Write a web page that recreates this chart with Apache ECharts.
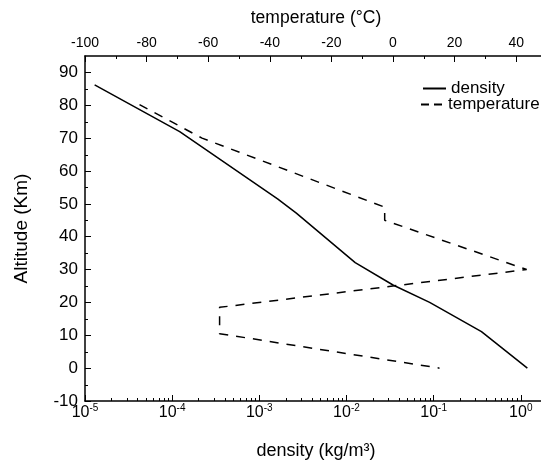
<!DOCTYPE html>
<html>
<head>
<meta charset="utf-8">
<script src="https://cdn.jsdelivr.net/npm/echarts@6/dist/echarts.min.js"></script>
<style>
html,body{margin:0;padding:0;background:#fff;}
#c{width:541px;height:464px;}
</style>
</head>
<body>
<div id="c"></div>
<script>
// ---- data ----
const densityAltitude = [86.2, 72.0, 57.3, 51.5, 47.2, 32.1, 25.3, 20.0, 11.1, 0];
const densityValues   = [1.29e-5, 1.22e-4, 7.8e-4, 1.62e-3, 2.66e-3, 1.26e-2, 3.42e-2, 9.0e-2, 0.354, 1.19];

const temperatureAltitude = [80.2, 70, 49, 45, 30, 18.5, 10.5, 0];
const temperatureValues   = [-82.3, -62, -2.7, -2.7, 43.4, -56.3, -56.3, 15.1];

const altitudeTicks    = [-10, 0, 10, 20, 30, 40, 50, 60, 70, 80, 90];
const temperatureTicks = [-100, -80, -60, -40, -20, 0, 20, 40];
const densityExponents = [-5, -4, -3, -2, -1, 0];

// minor tick positions
const densityMinor = [];
densityExponents.slice(0, -1).forEach(function (e) {
  for (let k = 2; k <= 9; k++) densityMinor.push(k * Math.pow(10, e));
});
const temperatureMinor = temperatureTicks.map(function (v) { return v + 10; });
const altitudeMinor = altitudeTicks.map(function (v) { return v + 5; });

const FONT = '"Liberation Sans", Arial, sans-serif';
const chart = echarts.init(document.getElementById('c'));

function zip(xs, ys) { return xs.map(function (x, i) { return [x, ys[i]]; }); }

function tickRenderer(dx, dy) {
  return function (params, api) {
    const p = api.coord([api.value(0), api.value(1)]);
    const x = Math.round(p[0]) + (dx === 0 ? 0.5 : 0);
    const y = Math.round(p[1]) + (dy === 0 ? 0.5 : 0);
    return {
      type: 'line',
      shape: { x1: x, y1: y, x2: x + dx, y2: y + dy },
      style: { stroke: '#000', lineWidth: 1 }
    };
  };
}

const axisLineStyle = { show: true, onZero: false, lineStyle: { color: '#000', width: 1.5 } };
const tickStyle = { show: true, inside: true, length: 6, lineStyle: { color: '#000', width: 1 } };
const legendText = { fontSize: 17, color: '#000', fontFamily: FONT };

chart.setOption({
  animation: false,
  backgroundColor: '#fff',
  grid: { left: 85, top: 56, width: 462, height: 345, containLabel: false, outerBoundsMode: 'none' },
  legend: [
    {
      data: ['density'], left: 422, top: 80, padding: 0, itemWidth: 23, itemHeight: 14,
      selectedMode: false, itemStyle: { opacity: 0 },
      textStyle: legendText
    },
    {
      data: ['temperature'], left: 420, top: 96, padding: 0, itemWidth: 22, itemHeight: 14,
      selectedMode: false, itemStyle: { opacity: 0 },
      lineStyle: { type: [8, 5] },
      textStyle: legendText
    }
  ],
  xAxis: [
    {
      type: 'log', logBase: 10, min: 1e-5, max: 2, position: 'bottom',
      axisLine: axisLineStyle, axisTick: tickStyle, splitLine: { show: false },
      minorTick: { show: false },
      axisLabel: {
        showMaxLabel: false, margin: 2,
        formatter: function (v) {
          const l = Math.log10(v), e = Math.round(l);
          if (Math.abs(l - e) > 1e-6) return '';
          return '{b|10}{s|' + e + '}';
        },
        rich: {
          b: { fontSize: 16, color: '#000', fontFamily: FONT, lineHeight: 19 },
          s: { fontSize: 10, color: '#000', fontFamily: FONT, verticalAlign: 'top', lineHeight: 10 }
        }
      },
      name: 'density (kg/m³)', nameLocation: 'middle', nameGap: 41,
      nameTextStyle: { fontSize: 18, color: '#000', fontFamily: FONT }
    },
    {
      type: 'value', min: -100, max: 50, interval: 20, position: 'top',
      axisLine: axisLineStyle, axisTick: tickStyle, splitLine: { show: false },
      axisLabel: { showMaxLabel: false, margin: 6, fontSize: 14, color: '#000', fontFamily: FONT },
      name: 'temperature (°C)', nameLocation: 'middle', nameGap: 29,
      nameTextStyle: { fontSize: 17.5, color: '#000', fontFamily: FONT }
    }
  ],
  yAxis: [
    {
      type: 'value', min: -10, max: 95, interval: 10, position: 'left',
      axisLine: axisLineStyle, axisTick: tickStyle, splitLine: { show: false },
      axisLabel: { showMaxLabel: false, margin: 7, fontSize: 17, color: '#000', fontFamily: FONT },
      name: 'Altitude (Km)', nameLocation: 'middle', nameGap: 54, nameRotate: 90,
      nameTextStyle: { fontSize: 19, color: '#000', fontFamily: FONT }
    }
  ],
  series: [
    {
      name: 'density', type: 'line', xAxisIndex: 0, yAxisIndex: 0,
      data: zip(densityValues, densityAltitude),
      symbol: 'none', showSymbol: false,
      lineStyle: { color: '#000', width: 1.5 }, itemStyle: { color: '#000' }
    },
    {
      name: 'temperature', type: 'line', xAxisIndex: 1, yAxisIndex: 0,
      data: zip(temperatureValues, temperatureAltitude),
      symbol: 'none', showSymbol: false,
      lineStyle: { color: '#000', width: 1.5, type: [9, 8] }, itemStyle: { color: '#000' }
    },
    {
      type: 'custom', xAxisIndex: 0, yAxisIndex: 0, silent: true, clip: false,
      data: densityMinor.map(function (v) { return [v, -10]; }),
      renderItem: tickRenderer(0, -3)
    },
    {
      type: 'custom', xAxisIndex: 1, yAxisIndex: 0, silent: true, clip: false,
      data: temperatureMinor.filter(function (v) { return v < 50; }).map(function (v) { return [v, 95]; }),
      renderItem: tickRenderer(0, 3)
    },
    {
      type: 'custom', xAxisIndex: 1, yAxisIndex: 0, silent: true, clip: false,
      data: altitudeMinor.filter(function (v) { return v < 95; }).map(function (v) { return [-100, v]; }),
      renderItem: tickRenderer(3, 0)
    }
  ]
});
</script>
</body>
</html>
